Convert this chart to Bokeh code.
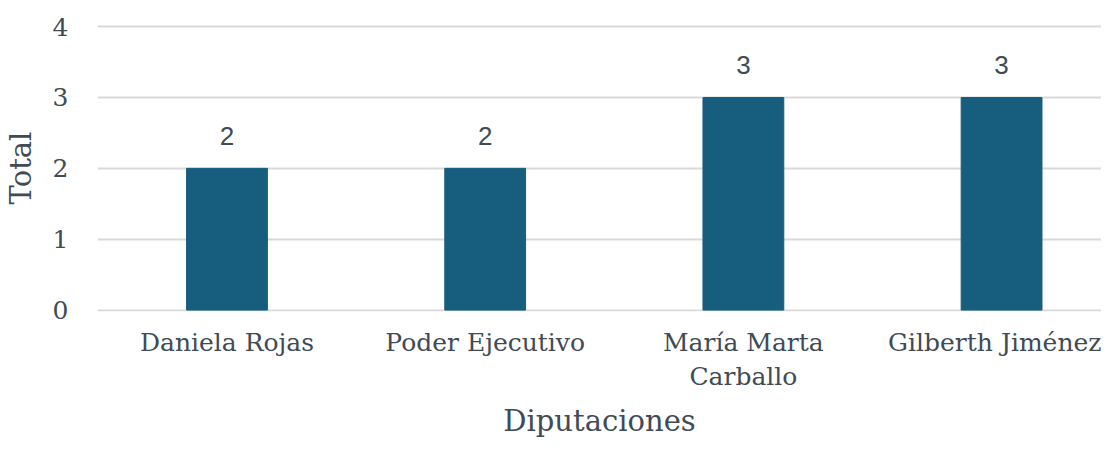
from bokeh.plotting import figure
from bokeh.models import ColumnDataSource, Range1d, FixedTicker
from bokeh.core.properties import value
from bokeh.embed import file_html
from bokeh.resources import INLINE

categories = ["Daniela Rojas", "Poder Ejecutivo", "María Marta\nCarballo", "Gilberth Jiménez"]
totals = [2, 2, 3, 3]
y_ticks = [0, 1, 2, 3, 4]

x_title = "Diputaciones"
y_title = "Total"

FONT = "DejaVu Serif"
TXT = "#404b55"
BAR = "#175e7e"

xs = list(range(len(categories)))
src = ColumnDataSource(dict(x=xs, top=totals, lab=[str(v) for v in totals]))

p = figure(width=1101, height=441, output_backend="svg", toolbar_location=None,
           x_range=Range1d(-0.5015, 3.387), y_range=Range1d(-0.02, 4.03),
           min_border_left=97, min_border_right=0, min_border_top=24, min_border_bottom=100)
p.outline_line_color = None

p.vbar(x="x", top="top", width=0.313, source=src, fill_color=BAR, line_color=BAR)
p.text(x="x", y="top", text="lab", source=src, text_align="center", text_baseline="bottom",
       y_offset=-23, text_font=value("Liberation Sans"), text_font_size="26px", text_color=TXT)

p.xaxis.ticker = FixedTicker(ticks=xs)
p.xaxis.major_label_overrides = {i: c for i, c in zip(xs, categories)}
p.yaxis.ticker = FixedTicker(ticks=y_ticks)

for ax in (p.xaxis, p.yaxis):
    ax.axis_line_color = None
    ax.major_tick_line_color = None
    ax.minor_tick_line_color = None
    ax.major_label_text_font = FONT
    ax.major_label_text_font_size = "25px"
    ax.major_label_text_color = TXT
    ax.axis_label_text_font = FONT
    ax.axis_label_text_font_size = "29px"
    ax.axis_label_text_font_style = "normal"
    ax.axis_label_text_color = TXT

p.xaxis.axis_label = x_title
p.yaxis.axis_label = y_title
p.xaxis.major_label_standoff = 10
p.xaxis.axis_label_standoff = 10
p.yaxis.major_label_standoff = 23
p.yaxis.axis_label_standoff = 12

p.xgrid.grid_line_color = None
p.ygrid.grid_line_color = "#d9d9d9"
p.ygrid.grid_line_width = 2

open("out.html", "w").write(file_html(p, INLINE))
